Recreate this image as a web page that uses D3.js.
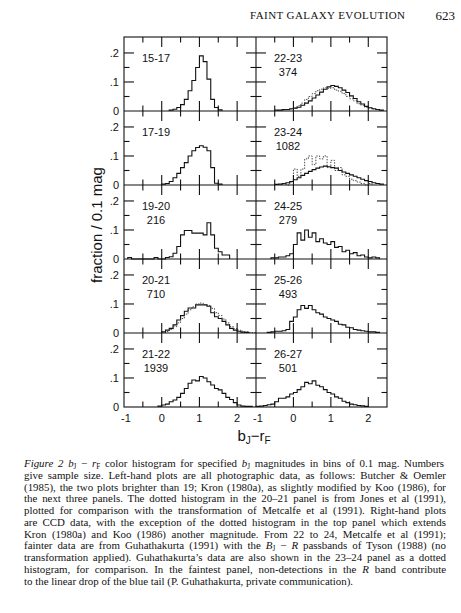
<!DOCTYPE html>
<html>
<head>
<meta charset="utf-8">
<script src="https://d3js.org/d3.v7.min.js"></script>
<style>
body { margin: 0; background: #fff; }
text { fill: #111; }
.sans { font-family: "Liberation Sans", Arial, sans-serif; }
.serif { font-family: "Liberation Serif", "Times New Roman", serif; }
</style>
</head>
<body>
<svg id="fig" width="461" height="613"></svg>
<script>
// panel labels
const leftRanges = ["15-17", "17-19", "19-20", "20-21", "21-22"];
const leftCounts = ["", "", "216", "710", "1939"];
const rightRanges = ["22-23", "23-24", "24-25", "25-26", "26-27"];
const rightCounts = ["374", "1082", "279", "493", "501"];

// fractions per 0.1 mag bin, each array starts at the given bin edge
const h15_17Start = 0.2;
const h15_17 = [0.003, 0.006, 0.012, 0.022, 0.04, 0.07, 0.105, 0.15, 0.19, 0.17, 0.11, 0.04, 0.012, 0.004];
const h17_19Start = 0.0;
const h17_19 = [0.003, 0.005, 0.012, 0.025, 0.04, 0.06, 0.077, 0.1, 0.118, 0.129, 0.135, 0.13, 0.118, 0.06, 0.006, 0.003];
const h19_20Start = -0.9;
const h19_20 = [0.005, 0, 0, 0, 0, 0, 0, 0.005, 0, 0, 0.005, 0.008, 0.02, 0.043, 0.083, 0.098, 0.098, 0.089, 0.089, 0.089, 0.083, 0.125, 0.083, 0.037, 0.025, 0.014, 0.014];
const h20_21Start = 0.0;
const h20_21 = [0.004, 0.01, 0.016, 0.028, 0.045, 0.06, 0.075, 0.086, 0.086, 0.097, 0.097, 0.097, 0.092, 0.07, 0.056, 0.05, 0.04, 0.028, 0.016, 0.01, 0.006, 0.003, 0.002];
const h20_21dotStart = 0.1;
const h20_21dot = [0.005, 0.012, 0.022, 0.035, 0.05, 0.065, 0.08, 0.09, 0.1, 0.103, 0.098, 0.095, 0.085, 0.07, 0.06, 0.048, 0.035, 0.022, 0.015, 0.01, 0.006, 0.004, 0.002, 0.001];
const h21_22Start = -0.1;
const h21_22 = [0.003, 0.007, 0.01, 0.018, 0.024, 0.033, 0.047, 0.064, 0.082, 0.093, 0.09, 0.105, 0.1, 0.087, 0.076, 0.064, 0.059, 0.047, 0.033, 0.026, 0.015, 0.007, 0.003, 0.002, 0.002];

const h22_23Start = -0.5;
const h22_23 = [0.003, 0.003, 0.005, 0.005, 0.008, 0.01, 0.013, 0.02, 0.027, 0.035, 0.045, 0.055, 0.065, 0.075, 0.083, 0.088, 0.085, 0.08, 0.072, 0.064, 0.052, 0.043, 0.032, 0.024, 0.016, 0.011, 0.008, 0.005, 0.003];
const h22_23dotStart = -0.4;
const h22_23dot = [0.002, 0.003, 0.004, 0.007, 0.01, 0.018, 0.027, 0.04, 0.05, 0.06, 0.07, 0.075, 0.08, 0.078, 0.08, 0.072, 0.068, 0.06, 0.05, 0.042, 0.035, 0.025, 0.02, 0.013, 0.01, 0.007, 0.004, 0.002];
const h23_24Start = -0.5;
const h23_24 = [0.002, 0.003, 0.005, 0.008, 0.012, 0.018, 0.025, 0.033, 0.04, 0.047, 0.053, 0.058, 0.062, 0.065, 0.063, 0.06, 0.058, 0.05, 0.045, 0.04, 0.035, 0.03, 0.025, 0.02, 0.015, 0.012, 0.008, 0.005, 0.003];
const h23_24dotStart = -0.3;
const h23_24dot = [0.005, 0, 0.01, 0.055, 0.03, 0.055, 0.09, 0.1, 0.07, 0.1, 0.09, 0.1, 0.06, 0.085, 0.05, 0.06, 0.035, 0.03, 0.02, 0.015, 0.01, 0.005, 0, 0.005];
const h24_25Start = -0.6;
const h24_25 = [0.004, 0.004, 0.007, 0.007, 0.011, 0.018, 0.05, 0.09, 0.065, 0.1, 0.075, 0.09, 0.06, 0.07, 0.055, 0.05, 0.06, 0.04, 0.043, 0.025, 0.03, 0.018, 0.022, 0.011, 0.014, 0.007, 0.004, 0.007, 0.004];
const h25_26Start = -0.7;
const h25_26 = [0.002, 0.004, 0.006, 0.006, 0.008, 0.012, 0.04, 0.055, 0.08, 0.095, 0.085, 0.095, 0.08, 0.07, 0.065, 0.055, 0.05, 0.045, 0.04, 0.03, 0.028, 0.02, 0.018, 0.012, 0.01, 0.008, 0.006, 0.004, 0.004, 0.002];
const h26_27Start = -1.0;
const h26_27 = [0.002, 0.003, 0.005, 0.008, 0.01, 0.018, 0.03, 0.03, 0.035, 0.045, 0.05, 0.06, 0.07, 0.085, 0.08, 0.09, 0.075, 0.07, 0.06, 0.05, 0.045, 0.035, 0.03, 0.02, 0.015, 0.01, 0.008, 0.005, 0.004, 0.002];

// axis labels
const xTickValues = [-1, 0, 1, 2];
const xTickLabels = ["-1", "0", "1", "2"];
const yTickValues = [0.2, 0.1, 0];
const yTickLabels = [".2", ".1", "0"];

const captionLines = [
  [["i", "Figure 2"], ["", "  "], ["i", "b"], ["s", "J"], ["", " \u2212 "], ["i", "r"], ["s", "F"], ["", " color histogram for specified "], ["i", "b"], ["s", "J"], ["", " magnitudes in bins of 0.1 mag. Numbers"]],
  [["", "give sample size. Left-hand plots are all photographic data, as follows: Butcher & Oemler"]],
  [["", "(1985), the two plots brighter than 19; Kron (1980a), as slightly modified by Koo (1986), for"]],
  [["", "the next three panels. The dotted histogram in the 20\u201321 panel is from Jones et al (1991),"]],
  [["", "plotted for comparison with the transformation of Metcalfe et al (1991). Right-hand plots"]],
  [["", "are CCD data, with the exception of the dotted histogram in the top panel which extends"]],
  [["", "Kron (1980a) and Koo (1986) another magnitude. From 22 to 24, Metcalfe et al (1991);"]],
  [["", "fainter data are from Guhathakurta (1991) with the "], ["i", "B"], ["s", "J"], ["", " \u2212 "], ["i", "R"], ["", " passbands of Tyson (1988) (no"]],
  [["", "transformation applied). Guhathakurta\u2019s data are also shown in the 23\u201324 panel as a dotted"]],
  [["", "histogram, for comparison. In the faintest panel, non-detections in the "], ["i", "R"], ["", " band contribute"]],
  [["", "to the linear drop of the blue tail (P. Guhathakurta, private communication)."]]
];

var svg = d3.select("#fig");

var top0 = 37, panelH = 74, nRows = 5;
var xL = d3.scaleLinear().domain([-1, 2.5]).range([124, 256]);
var xR = d3.scaleLinear().domain([-1, 2.5]).range([256, 387]);
var cols = [xL, xR];
function yRow(r) {
  var base = top0 + panelH * (r + 1);
  return d3.scaleLinear().domain([0, 0.255]).range([base, base - panelH]);
}

var panels = [
  [[h15_17Start, h15_17, false]],
  [[h17_19Start, h17_19, false]],
  [[h19_20Start, h19_20, false]],
  [[h20_21Start, h20_21, false], [h20_21dotStart, h20_21dot, true]],
  [[h21_22Start, h21_22, false]],
  [[h22_23Start, h22_23, false], [h22_23dotStart, h22_23dot, true]],
  [[h23_24Start, h23_24, false], [h23_24dotStart, h23_24dot, true]],
  [[h24_25Start, h24_25, false]],
  [[h25_26Start, h25_26, false]],
  [[h26_27Start, h26_27, false]]
];

// histograms
panels.forEach(function (list, i) {
  var c = Math.floor(i / 5), r = i % 5;
  var x = cols[c], y = yRow(r);
  list.forEach(function (h) {
    var start = h[0], vals = h[1];
    var pts = [[start, 0]];
    vals.forEach(function (v, k) { pts.push([start + k * 0.1, v]); });
    pts.push([start + vals.length * 0.1, 0]);
    var line = d3.line().x(d => x(d[0])).y(d => y(d[1])).curve(d3.curveStepAfter);
    svg.append("path")
      .attr("d", line(pts))
      .attr("fill", "none")
      .attr("stroke", h[2] ? "#333" : "#111")
      .attr("stroke-width", h[2] ? 0.9 : 1.1)
      .attr("stroke-dasharray", h[2] ? "1.4,1.4" : null);
  });
});

// frame
var fr = svg.append("g").attr("stroke", "#111").attr("stroke-width", 1.1).attr("fill", "none");
fr.append("rect").attr("x", 124).attr("y", top0).attr("width", 263).attr("height", panelH * nRows);
for (var r = 0; r < nRows - 1; r++) {
  var yy = yRow(r)(0);
  fr.append("line").attr("x1", 124).attr("x2", 387).attr("y1", yy).attr("y2", yy);
}
fr.append("line").attr("x1", 256).attr("x2", 256).attr("y1", top0).attr("y2", top0 + panelH * nRows);

// ticks
var xt = d3.range(-1, 2.51, 0.5);
var yt = [0.05, 0.1, 0.15, 0.2];
for (var c = 0; c < 2; c++) {
  for (var r = 0; r < nRows; r++) {
    var x = cols[c], y = yRow(r);
    var yb = y(0), ytop = y(0.255);
    xt.forEach(function (v) {
      var L = Number.isInteger(v) ? 10 : 5.5;
      if (v === -1 || v === 2.5) return;
      fr.append("line").attr("x1", x(v)).attr("x2", x(v)).attr("y1", yb).attr("y2", yb - L);
      fr.append("line").attr("x1", x(v)).attr("x2", x(v)).attr("y1", ytop).attr("y2", ytop + L);
    });
    yt.forEach(function (v) {
      var L = (v === 0.1 || v === 0.2) ? 10 : 5.5;
      var xa = x(-1), xb = x(2.5);
      fr.append("line").attr("x1", xa).attr("x2", xa + L).attr("y1", y(v)).attr("y2", y(v));
      fr.append("line").attr("x1", xb).attr("x2", xb - L).attr("y1", y(v)).attr("y2", y(v));
    });
  }
}

// y tick labels
for (var r = 0; r < nRows; r++) {
  var y = yRow(r);
  yTickValues.forEach(function (v, k) {
    svg.append("text").attr("class", "sans")
      .attr("x", 119).attr("y", y(v) + 4)
      .attr("text-anchor", "end").attr("font-size", 11)
      .text(yTickLabels[k]);
  });
}

// x tick labels
cols.forEach(function (x) {
  xTickValues.forEach(function (v, k) {
    svg.append("text").attr("class", "sans")
      .attr("x", x(v) + (v === -1 ? 2 : 0)).attr("y", 422)
      .attr("text-anchor", "middle").attr("font-size", 11)
      .text(xTickLabels[k]);
  });
});

// panel labels
[[leftRanges, leftCounts], [rightRanges, rightCounts]].forEach(function (lab, c) {
  var cx = cols[c](-1) + 32;
  for (var r = 0; r < nRows; r++) {
    var ytop = yRow(r)(0.255);
    svg.append("text").attr("class", "sans").attr("x", cx).attr("y", ytop + 25)
      .attr("text-anchor", "middle").attr("font-size", 11).text(lab[0][r]);
    if (lab[1][r]) {
      svg.append("text").attr("class", "sans").attr("x", cx).attr("y", ytop + 39)
        .attr("text-anchor", "middle").attr("font-size", 11).text(lab[1][r]);
    }
  }
});

// axis titles
svg.append("text").attr("class", "sans")
  .attr("transform", "translate(102,225) rotate(-90)")
  .attr("text-anchor", "middle").attr("font-size", 15)
  .text("fraction / 0.1 mag");

var xl = svg.append("text").attr("class", "sans")
  .attr("x", 254).attr("y", 441).attr("text-anchor", "middle").attr("font-size", 15);
xl.append("tspan").text("b");
xl.append("tspan").attr("dy", 3).attr("font-size", 10).text("J");
xl.append("tspan").attr("dy", -3).text("\u2212r");
xl.append("tspan").attr("dy", 3).attr("font-size", 10).text("F");

// running head
svg.append("text").attr("class", "serif")
  .attr("x", 250).attr("y", 19).attr("font-size", 11)
  .attr("textLength", 155).attr("lengthAdjust", "spacing")
  .text("FAINT GALAXY EVOLUTION");
svg.append("text").attr("class", "serif")
  .attr("x", 455).attr("y", 19.5).attr("font-size", 13).attr("text-anchor", "end")
  .text("623");

// caption, justified by word spacing
var capW = 422;
captionLines.forEach(function (parts, i) {
  var t = svg.append("text").attr("class", "serif")
    .attr("x", 24).attr("y", 467 + i * 11.75).attr("font-size", 10.9);
  var sub = false;
  parts.forEach(function (p) {
    var s = t.append("tspan").text(p[1]);
    if (p[0] === "i") s.attr("font-style", "italic");
    if (p[0] === "s") { s.attr("font-size", 7.2).attr("dy", 2); sub = true; }
    else if (sub) { s.attr("dy", -2); sub = false; }
  });
  if (i < captionLines.length - 1) {
    var w = t.node().getComputedTextLength();
    var full = parts.map(p => p[1]).join("");
    var nSp = (full.match(/ /g) || []).length;
    if (nSp > 0) t.attr("word-spacing", ((capW - w) / nSp).toFixed(3));
  }
});
</script>
</body>
</html>
